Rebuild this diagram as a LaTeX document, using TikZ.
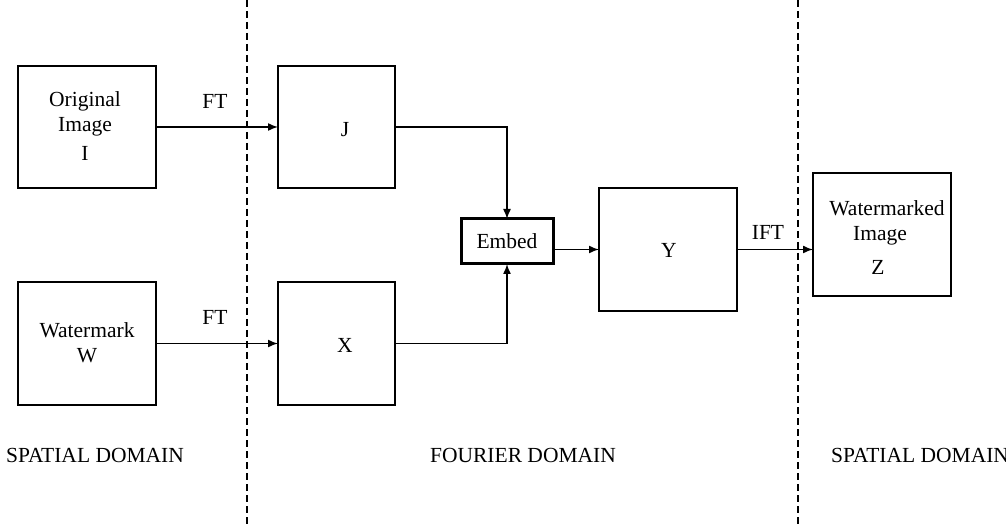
\documentclass[tikz,border=0pt]{standalone}
\usepackage{fontspec}
\setmainfont{Liberation Serif}
\usetikzlibrary{arrows.meta,calc}
\begin{document}
\begin{tikzpicture}[x=1pt,y=-1pt,
  box/.style={draw,line width=1.7pt,inner sep=0pt,outer sep=0pt},
  thickbox/.style={draw,line width=3pt,inner sep=0pt,outer sep=0pt},
  arr/.style={line width=1.5pt,-{Latex[length=10pt,width=8pt]}},
  lbl/.style={inner sep=0pt,font=\fontsize{21.5}{25}\selectfont},
  sep/.style={line width=1.3pt,dash pattern=on 7pt off 4pt}]
\useasboundingbox (0,0) rectangle (1006,526);
% separators
\coordinate (s1t) at (247,0); \coordinate (s1b) at (247,526);
\coordinate (s2t) at (798,0); \coordinate (s2b) at (798,526);
\draw[sep] (s1t) -- (s1b);
\draw[sep] (s2t) -- (s2b);
% boxes
\node[box,minimum width=138pt,minimum height=122pt] (orig) at (87,127) {};
\node[box,minimum width=138pt,minimum height=123pt] (wm) at (87,343.5) {};
\node[box,minimum width=117pt,minimum height=122pt] (J) at (336.5,127) {};
\node[box,minimum width=117pt,minimum height=123pt] (X) at (336.5,343.5) {};
\node[thickbox,minimum width=92pt,minimum height=45pt] (embed) at (507,241.5) {};
\node[box,minimum width=138pt,minimum height=123pt] (Y) at (668,249.5) {};
\node[box,minimum width=138pt,minimum height=123pt] (Z) at (882,234.5) {};
% box texts
\node[lbl] (t1) at (85,101) {Original};
\node[lbl] (t2) at (85,127) {Image};
\node[lbl] (t3) at (85,153) {I};
\node[lbl] (t4) at (87,330) {Watermark};
\node[lbl] (t5) at (87,356) {W};
\node[lbl] (tJ) at (345,130) {J};
\node[lbl] (tX) at (345,345) {X};
\node[lbl] (tE) at (507,241) {Embed};
\node[lbl] (tY) at (669,250) {Y};
\node[lbl] (t6) at (887,208) {Watermarked};
\node[lbl] (t7) at (880,236) {Image};
\node[lbl] (t8) at (878,267) {Z};
% edge labels
\node[lbl] (ft1) at (215,101) {FT};
\node[lbl] (ft2) at (215,317) {FT};
\node[lbl] (ift) at (768,232) {IFT};
% domains
\node[lbl] (d1) at (95,455) {SPATIAL DOMAIN};
\node[lbl] (d2) at (523,455) {FOURIER DOMAIN};
\node[lbl,anchor=west] (d3) at (831,455) {SPATIAL DOMAIN};
% connectors
\draw[arr] (orig.east) -- (J.west);
\draw[arr] (wm.east |- X.west) -- (X.west);
\draw[arr] (J.east) -| (embed.north);
\draw[arr] (X.east) -| (embed.south);
\draw[arr] (embed.east |- Y.west) -- (Y.west);
\draw[arr] (Y.east) -- (Y.east -| Z.west);
\end{tikzpicture}
\end{document}
